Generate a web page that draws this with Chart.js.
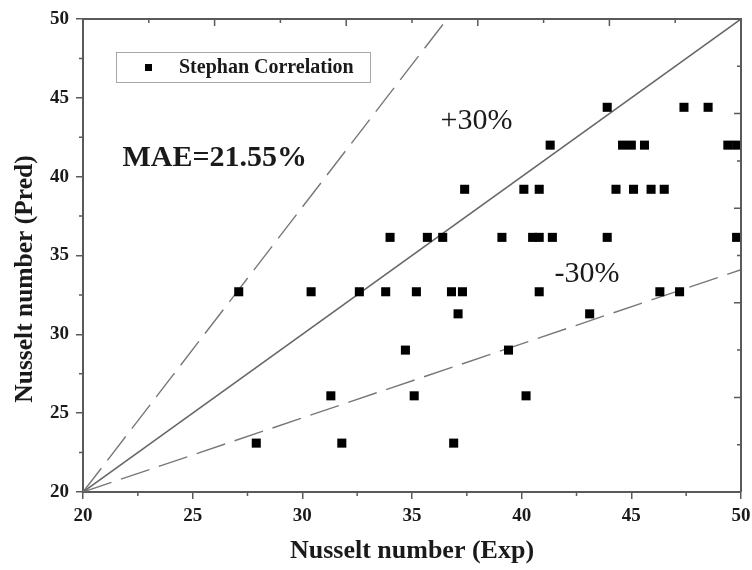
<!DOCTYPE html>
<html>
<head>
<meta charset="utf-8">
<script src="https://cdn.jsdelivr.net/npm/chart.js@4.4.0/dist/chart.umd.min.js"></script>
<style>
  html, body { margin: 0; padding: 0; background: #fff; }
  #wrap { width: 752px; height: 570px; }
</style>
</head>
<body>
<div id="wrap"><canvas id="nuChart" width="752" height="570"></canvas></div>
<script>
// Nusselt number: experiment vs Stephan correlation
const nuExp = [
  27.9, 31.8, 36.9,
  31.3, 35.1, 40.2,
  34.7, 39.4,
  37.1, 43.1,
  27.1, 30.4, 32.6, 33.8, 35.2, 36.8, 37.3, 40.8, 46.3, 47.2,
  34.0, 35.7, 36.4, 39.1, 40.5, 40.8, 41.4, 43.9, 49.8,
  37.4, 40.1, 40.8, 44.3, 45.1, 45.9, 46.5,
  41.3, 44.6, 45.0, 45.6, 49.4, 49.8,
  43.9, 47.4, 48.5
];
const nuPred = [
  23.1, 23.1, 23.1,
  26.1, 26.1, 26.1,
  29.0, 29.0,
  31.3, 31.3,
  32.7, 32.7, 32.7, 32.7, 32.7, 32.7, 32.7, 32.7, 32.7, 32.7,
  36.15, 36.15, 36.15, 36.15, 36.15, 36.15, 36.15, 36.15, 36.15,
  39.2, 39.2, 39.2, 39.2, 39.2, 39.2, 39.2,
  42.0, 42.0, 42.0, 42.0, 42.0, 42.0,
  44.4, 44.4, 44.4
];

// guide lines, all starting at the origin corner
const lineStart = [20, 20];
const parityEnd = [50, 50];
const upperEnd = [36.6, 50];
const lowerEnd = [50, 34.1];

const tickValues = [20, 25, 30, 35, 40, 45, 50];
const axisMin = 20;
const axisMax = 50;

const SERIF = "'Liberation Serif', 'Times New Roman', serif";
const AXIS = '#5a5a5a';

const points = nuExp.map((v, i) => ({ x: v, y: nuPred[i] }));
const seg = (a, b) => [{ x: a[0], y: a[1] }, { x: b[0], y: b[1] }];

// text placed inside the plot, in data units
const notes = [
  { text: 'MAE=21.55%', x: 21.8, y: 40.7, weight: 'bold' },
  { text: '+30%', x: 36.3, y: 43.0, weight: 'normal' },
  { text: '-30%', x: 41.5, y: 33.3, weight: 'normal' }
];

const decor = {
  id: 'decor',
  afterDatasetsDraw(chart) {
    const { ctx, chartArea: a, scales: { x, y } } = chart;
    ctx.save();

    // top and right frame
    ctx.strokeStyle = AXIS;
    ctx.lineWidth = 2;
    ctx.beginPath();
    ctx.moveTo(a.left, a.top);
    ctx.lineTo(a.right, a.top);
    ctx.lineTo(a.right, a.bottom);
    ctx.stroke();

    // minor ticks, outward on left / bottom
    ctx.lineWidth = 1.5;
    ctx.beginPath();
    for (let v = 22.5; v < axisMax; v += 5) {
      const px = x.getPixelForValue(v);
      ctx.moveTo(px, a.bottom);
      ctx.lineTo(px, a.bottom + 4);
      const py = y.getPixelForValue(v);
      ctx.moveTo(a.left, py);
      ctx.lineTo(a.left - 4, py);
    }
    // inward ticks on top / right, every 3
    for (let v = 23; v < axisMax; v += 3) {
      const len = ((v - 20) % 6 === 0) ? 7 : 4;
      const px = x.getPixelForValue(v);
      ctx.moveTo(px, a.top);
      ctx.lineTo(px, a.top + len);
      const py = y.getPixelForValue(v);
      ctx.moveTo(a.right, py);
      ctx.lineTo(a.right - len, py);
    }
    ctx.stroke();

    // legend box
    const lx = a.left + 33, ly = a.top + 33;
    ctx.fillStyle = '#fff';
    ctx.fillRect(lx, ly, 254, 30);
    ctx.strokeStyle = '#a8a8a8';
    ctx.lineWidth = 1;
    ctx.strokeRect(lx + 0.5, ly + 0.5, 254, 30);
    ctx.fillStyle = '#000';
    ctx.fillRect(lx + 29, ly + 12, 7, 7);
    ctx.fillStyle = '#1a1a1a';
    ctx.font = 'bold 20px ' + SERIF;
    ctx.textAlign = 'left';
    ctx.textBaseline = 'middle';
    ctx.fillText('Stephan Correlation', lx + 63, ly + 16);

    // annotations
    ctx.textBaseline = 'alphabetic';
    notes.forEach(n => {
      ctx.font = n.weight + ' 30px ' + SERIF;
      ctx.fillText(n.text, x.getPixelForValue(n.x), y.getPixelForValue(n.y));
    });

    // y axis title
    ctx.translate(25, 279);
    ctx.rotate(-Math.PI / 2);
    ctx.textAlign = 'center';
    ctx.textBaseline = 'middle';
    ctx.font = 'bold 25.5px ' + SERIF;
    ctx.fillText('Nusselt number (Pred)', 0, 0);

    ctx.restore();
  }
};

const tickFont = { family: SERIF, size: 19, weight: 'bold' };

new Chart(document.getElementById('nuChart'), {
  type: 'scatter',
  data: {
    datasets: [{
      label: 'Stephan Correlation',
      data: points,
      pointStyle: 'rect',
      pointRadius: 6.4,
      pointHoverRadius: 6.4,
      pointBorderWidth: 0,
      backgroundColor: '#000',
      borderColor: '#000'
    }, {
      data: seg(lineStart, parityEnd),
      showLine: true,
      borderColor: '#666',
      borderWidth: 1.5,
      pointRadius: 0
    }, {
      data: seg(lineStart, upperEnd),
      showLine: true,
      borderColor: '#777',
      borderWidth: 1.4,
      borderDash: [30, 10],
      pointRadius: 0
    }, {
      data: seg(lineStart, lowerEnd),
      showLine: true,
      borderColor: '#777',
      borderWidth: 1.4,
      borderDash: [30, 10],
      pointRadius: 0
    }]
  },
  options: {
    responsive: false,
    animation: false,
    events: [],
    layout: { padding: { top: 19, right: 11, left: 0, bottom: 0 } },
    plugins: {
      legend: { display: false },
      tooltip: { enabled: false }
    },
    scales: {
      x: {
        type: 'linear',
        min: axisMin,
        max: axisMax,
        afterBuildTicks: s => { s.ticks = tickValues.map(v => ({ value: v })); },
        afterFit: s => { s.height = 78; s.paddingLeft = 0; s.paddingRight = 0; },
        grid: { drawOnChartArea: false, drawTicks: true, tickLength: 7, color: AXIS, lineWidth: 1.5 },
        border: { display: true, color: AXIS, width: 2 },
        ticks: { font: tickFont, color: '#1a1a1a', padding: 6, maxRotation: 0 },
        title: {
          display: true,
          text: 'Nusselt number (Exp)',
          font: { family: SERIF, size: 26, weight: 'bold' },
          color: '#1a1a1a',
          padding: { top: 0, bottom: 3 }
        }
      },
      y: {
        type: 'linear',
        min: axisMin,
        max: axisMax,
        afterBuildTicks: s => { s.ticks = tickValues.map(v => ({ value: v })); },
        afterFit: s => { s.width = 83; s.paddingTop = 0; s.paddingBottom = 0; },
        grid: { drawOnChartArea: false, drawTicks: true, tickLength: 7, color: AXIS, lineWidth: 1.5 },
        border: { display: true, color: AXIS, width: 2 },
        ticks: { font: tickFont, color: '#1a1a1a', padding: 7 }
      }
    }
  },
  plugins: [decor]
});
</script>
</body>
</html>
